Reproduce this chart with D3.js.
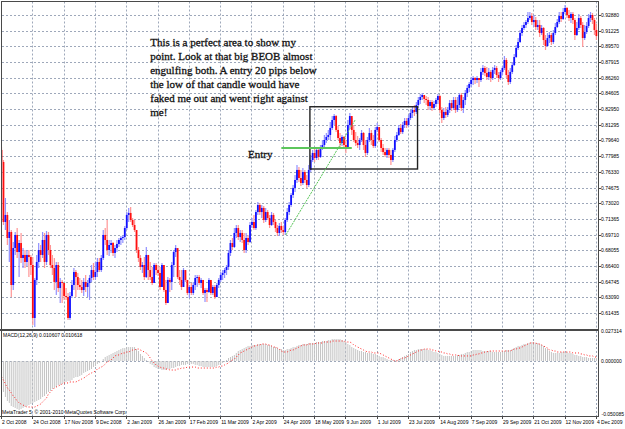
<!DOCTYPE html>
<html>
<head>
<meta charset="utf-8">
<title>Daily chart with MACD</title>
<script src="https://d3js.org/d3.v7.min.js"></script>
<style>
    html, body { margin: 0; padding: 0; background: #fff; overflow: hidden; }
    svg { display: block; }
    .tick-label { font-family: "Liberation Sans", Arial, sans-serif; font-size: 5px; fill: #000; }
    .note { font-family: "Liberation Serif", "Times New Roman", serif; font-size: 11px; fill: #111; stroke: #111; stroke-width: 0.3px; }
</style>
</head>
<body>
<svg id="chart" width="625" height="429"></svg>
<script>
// ---- datos (diario, 2 Oct 2008 - 4 Dec 2009) ----
const firstOpen = 0.7864;

const closes = [
    0.7737,0.7104,0.7178,0.6935,0.6998,0.6439,0.6829,0.6967,0.6787,0.6882,
    0.6724,0.6756,0.6682,0.6756,0.6734,0.6650,0.6091,0.6492,0.6682,0.6808,
    0.6756,0.6914,0.6682,0.6967,0.6808,0.6650,0.6618,0.6471,0.6650,0.6407,
    0.6471,0.6460,0.6323,0.6312,0.6091,0.6323,0.6439,0.6576,0.6523,0.6439,
    0.6418,0.6386,0.6471,0.6418,0.6460,0.6513,0.6597,0.6523,0.6576,0.6682,
    0.6597,0.6724,0.6967,0.6914,0.6808,0.6861,0.6882,0.6777,0.6829,0.6872,
    0.6914,0.6935,0.6945,0.7040,0.7178,0.7199,0.7125,0.7072,0.7019,0.6808,
    0.6724,0.6629,0.6650,0.6523,0.6756,0.6597,0.6523,0.6460,0.6650,0.6597,
    0.6566,0.6418,0.6650,0.6386,0.6249,0.6492,0.6471,0.6650,0.6787,0.6829,
    0.6523,0.6492,0.6418,0.6597,0.6492,0.6355,0.6418,0.6355,0.6439,0.6513,
    0.6523,0.6460,0.6492,0.6355,0.6386,0.6365,0.6492,0.6355,0.6418,0.6312,
    0.6439,0.6492,0.6545,0.6566,0.6597,0.6629,0.6777,0.6882,0.6840,0.6988,
    0.7040,0.6945,0.6988,0.6914,0.6808,0.6935,0.6893,0.7072,0.7104,0.7040,
    0.7209,0.7283,0.7209,0.7252,0.7125,0.7209,0.7146,0.7072,0.7178,0.7104,
    0.7040,0.6988,0.7062,0.7019,0.6998,0.7125,0.7209,0.7283,0.7389,0.7463,
    0.7547,0.7653,0.7568,0.7515,0.7631,0.7547,0.7494,0.7653,0.7758,0.7832,
    0.7779,0.7864,0.7790,0.7885,0.7916,0.7969,0.8001,0.8022,0.8096,0.8180,
    0.8222,0.8075,0.7990,0.7937,0.8001,0.7916,0.7895,0.8127,0.8222,0.8075,
    0.7969,0.7937,0.7916,0.7969,0.8043,0.7916,0.7832,0.7969,0.8043,0.7969,
    0.7906,0.8075,0.8106,0.7969,0.7885,0.7842,0.7811,0.7864,0.7811,0.7758,
    0.7864,0.7969,0.8022,0.8096,0.8053,0.8127,0.8170,0.8127,0.8201,0.8254,
    0.8286,0.8265,0.8338,0.8391,0.8423,0.8444,0.8402,0.8391,0.8328,0.8370,
    0.8307,0.8349,0.8391,0.8433,0.8286,0.8201,0.8265,0.8233,0.8286,0.8359,
    0.8307,0.8391,0.8286,0.8338,0.8444,0.8307,0.8391,0.8465,0.8518,0.8560,
    0.8602,0.8623,0.8602,0.8623,0.8602,0.8687,0.8729,0.8676,0.8634,0.8687,
    0.8623,0.8708,0.8729,0.8655,0.8623,0.8687,0.8729,0.8813,0.8655,0.8581,
    0.8687,0.8760,0.8845,0.8940,0.9003,0.9098,0.9151,0.9183,0.9214,0.9256,
    0.9278,0.9214,0.9235,0.9161,0.9183,0.9098,0.9151,0.9024,0.8961,0.9045,
    0.9077,0.9003,0.9098,0.9161,0.9214,0.9278,0.9246,0.9320,0.9362,0.9288,
    0.9256,0.9299,0.9235,0.9077,0.9151,0.9256,0.9183,0.9045,0.9109,0.9172,
    0.9256,0.9288,0.9235,0.9130,0.9066
];

const highs = [
    0.7895,0.7758,0.7357,0.7209,0.7125,0.7019,0.6893,0.6998,0.7040,0.6914,
    0.6988,0.6829,0.6808,0.6808,0.6808,0.6756,0.6734,0.6513,0.6756,0.6882,
    0.6861,0.6998,0.6988,0.7009,0.6998,0.6861,0.6756,0.6724,0.6682,0.6682,
    0.6513,0.6492,0.6460,0.6407,0.6355,0.6365,0.6492,0.6618,0.6597,0.6566,
    0.6513,0.6492,0.6513,0.6545,0.6492,0.6545,0.6650,0.6671,0.6682,0.6724,
    0.6724,0.6756,0.7019,0.7040,0.7125,0.6914,0.6914,0.6893,0.6861,0.6914,
    0.6935,0.6956,0.6967,0.7062,0.7209,0.7252,0.7262,0.7146,0.7125,0.7019,
    0.6840,0.6756,0.6682,0.6734,0.6840,0.6682,0.6682,0.6629,0.6671,0.6671,
    0.6650,0.6629,0.6671,0.6640,0.6492,0.6523,0.6513,0.6682,0.6808,0.6861,
    0.6808,0.6597,0.6597,0.6618,0.6534,0.6492,0.6439,0.6460,0.6471,0.6545,
    0.6545,0.6545,0.6513,0.6471,0.6407,0.6407,0.6513,0.6471,0.6439,0.6439,
    0.6460,0.6513,0.6576,0.6597,0.6618,0.6650,0.6808,0.6914,0.6935,0.7040,
    0.7072,0.7072,0.7019,0.7019,0.6988,0.6988,0.6967,0.7104,0.7146,0.7178,
    0.7230,0.7315,0.7304,0.7283,0.7273,0.7252,0.7230,0.7178,0.7209,0.7199,
    0.7125,0.7072,0.7093,0.7104,0.7062,0.7146,0.7252,0.7315,0.7410,0.7494,
    0.7600,0.7705,0.7684,0.7653,0.7674,0.7653,0.7600,0.7705,0.7811,0.7864,
    0.7885,0.7895,0.7885,0.7916,0.7969,0.8022,0.8043,0.8075,0.8159,0.8222,
    0.8243,0.8233,0.8117,0.8043,0.8022,0.8011,0.7969,0.8180,0.8254,0.8201,
    0.8127,0.8053,0.8011,0.7990,0.8075,0.8053,0.7969,0.8001,0.8096,0.8075,
    0.8022,0.8106,0.8148,0.8096,0.7990,0.7927,0.7885,0.7885,0.7885,0.7864,
    0.7885,0.8011,0.8053,0.8127,0.8138,0.8159,0.8201,0.8201,0.8233,0.8286,
    0.8328,0.8338,0.8370,0.8423,0.8454,0.8465,0.8433,0.8433,0.8423,0.8391,
    0.8391,0.8381,0.8412,0.8454,0.8444,0.8317,0.8307,0.8317,0.8317,0.8391,
    0.8391,0.8423,0.8423,0.8423,0.8465,0.8465,0.8423,0.8497,0.8549,0.8581,
    0.8634,0.8644,0.8634,0.8644,0.8623,0.8729,0.8760,0.8750,0.8739,0.8729,
    0.8708,0.8739,0.8760,0.8750,0.8687,0.8708,0.8750,0.8855,0.8834,0.8708,
    0.8729,0.8792,0.8877,0.8971,0.9045,0.9130,0.9183,0.9214,0.9235,0.9320,
    0.9320,0.9309,0.9288,0.9267,0.9235,0.9235,0.9183,0.9161,0.9077,0.9098,
    0.9109,0.9098,0.9130,0.9204,0.9246,0.9320,0.9320,0.9362,0.9394,0.9372,
    0.9341,0.9320,0.9320,0.9256,0.9214,0.9299,0.9278,0.9214,0.9183,0.9214,
    0.9299,0.9320,0.9309,0.9256,0.9193
];

const lows = [
    0.7705,0.7072,0.7019,0.6861,0.6682,0.6312,0.6386,0.6756,0.6724,0.6523,
    0.6671,0.6618,0.6618,0.6640,0.6523,0.6545,0.6017,0.5996,0.6439,0.6618,
    0.6682,0.6724,0.6618,0.6650,0.6756,0.6618,0.6545,0.6386,0.6333,0.6365,
    0.6249,0.6249,0.6281,0.6281,0.6070,0.6070,0.6302,0.6386,0.6312,0.6386,
    0.6386,0.6355,0.6323,0.6365,0.6312,0.6281,0.6471,0.6492,0.6492,0.6523,
    0.6576,0.6576,0.6703,0.6861,0.6756,0.6745,0.6777,0.6745,0.6724,0.6787,
    0.6840,0.6861,0.6882,0.6914,0.7019,0.7104,0.7104,0.7051,0.6998,0.6777,
    0.6682,0.6597,0.6566,0.6492,0.6513,0.6492,0.6492,0.6439,0.6460,0.6545,
    0.6534,0.6386,0.6418,0.6365,0.6228,0.6249,0.6365,0.6386,0.6523,0.6734,
    0.6502,0.6439,0.6386,0.6418,0.6471,0.6333,0.6302,0.6333,0.6333,0.6386,
    0.6418,0.6439,0.6407,0.6333,0.6260,0.6260,0.6355,0.6333,0.6333,0.6291,
    0.6312,0.6407,0.6471,0.6492,0.6513,0.6545,0.6597,0.6745,0.6808,0.6829,
    0.6935,0.6914,0.6893,0.6882,0.6777,0.6777,0.6861,0.6882,0.7040,0.7019,
    0.7019,0.7178,0.7178,0.7146,0.7093,0.7104,0.7125,0.7040,0.7062,0.7072,
    0.6998,0.6956,0.6956,0.6988,0.6967,0.6967,0.7104,0.7178,0.7262,0.7357,
    0.7420,0.7515,0.7526,0.7484,0.7494,0.7515,0.7463,0.7473,0.7631,0.7737,
    0.7737,0.7758,0.7758,0.7779,0.7864,0.7895,0.7937,0.7969,0.7969,0.8075,
    0.8127,0.8053,0.7969,0.7885,0.7906,0.7885,0.7832,0.7885,0.8096,0.8022,
    0.7948,0.7906,0.7885,0.7864,0.7948,0.7864,0.7790,0.7811,0.7948,0.7916,
    0.7885,0.7885,0.8053,0.7948,0.7842,0.7811,0.7790,0.7779,0.7779,0.7705,
    0.7737,0.7842,0.7948,0.8011,0.8032,0.8032,0.8096,0.8096,0.8106,0.8180,
    0.8201,0.8222,0.8243,0.8307,0.8349,0.8391,0.8359,0.8338,0.8286,0.8286,
    0.8275,0.8286,0.8317,0.8349,0.8254,0.8148,0.8180,0.8201,0.8212,0.8254,
    0.8275,0.8286,0.8254,0.8265,0.8307,0.8275,0.8254,0.8338,0.8423,0.8476,
    0.8528,0.8549,0.8560,0.8570,0.8528,0.8581,0.8655,0.8644,0.8602,0.8602,
    0.8581,0.8602,0.8666,0.8623,0.8581,0.8602,0.8655,0.8708,0.8623,0.8549,
    0.8560,0.8666,0.8750,0.8834,0.8919,0.8993,0.9066,0.9130,0.9151,0.9193,
    0.9235,0.9183,0.9161,0.9130,0.9130,0.9056,0.9077,0.8971,0.8919,0.8950,
    0.8993,0.8971,0.8982,0.9077,0.9151,0.9193,0.9214,0.9235,0.9299,0.9256,
    0.9225,0.9204,0.9193,0.9024,0.9066,0.9130,0.9151,0.8950,0.9024,0.9088,
    0.9151,0.9214,0.9193,0.9077,0.9024
];

// MACD(12,26,9): linea principal (histograma) y señal
const macdMain = [
    -0.0191,-0.0282,-0.0328,-0.0364,-0.0382,-0.0410,-0.0419,-0.0428,-0.0437,-0.0446,
    -0.0437,-0.0428,-0.0419,-0.0410,-0.0401,-0.0392,-0.0382,-0.0373,-0.0364,-0.0355,
    -0.0346,-0.0328,-0.0319,-0.0300,-0.0282,-0.0273,-0.0255,-0.0246,-0.0237,-0.0219,
    -0.0219,-0.0209,-0.0200,-0.0191,-0.0182,-0.0182,-0.0173,-0.0155,-0.0146,-0.0146,
    -0.0137,-0.0127,-0.0109,-0.0100,-0.0091,-0.0082,-0.0073,-0.0055,-0.0046,-0.0027,
    -0.0018,0.0000,0.0018,0.0036,0.0046,0.0055,0.0064,0.0073,0.0082,0.0091,
    0.0100,0.0109,0.0118,0.0118,0.0127,0.0127,0.0127,0.0127,0.0127,0.0109,
    0.0091,0.0064,0.0046,0.0027,0.0009,-0.0009,-0.0027,-0.0036,-0.0055,-0.0064,
    -0.0073,-0.0073,-0.0082,-0.0082,-0.0082,-0.0073,-0.0073,-0.0064,-0.0064,-0.0055,
    -0.0046,-0.0046,-0.0036,-0.0036,-0.0036,-0.0027,-0.0027,-0.0027,-0.0027,-0.0036,
    -0.0036,-0.0046,-0.0046,-0.0055,-0.0055,-0.0055,-0.0055,-0.0055,-0.0055,-0.0055,
    -0.0046,-0.0036,-0.0027,-0.0018,-0.0009,0.0009,0.0027,0.0036,0.0046,0.0055,
    0.0073,0.0091,0.0100,0.0109,0.0118,0.0127,0.0137,0.0137,0.0146,0.0146,
    0.0146,0.0155,0.0155,0.0155,0.0155,0.0155,0.0146,0.0146,0.0137,0.0127,
    0.0127,0.0118,0.0109,0.0109,0.0100,0.0100,0.0109,0.0109,0.0118,0.0127,
    0.0127,0.0137,0.0146,0.0146,0.0155,0.0155,0.0155,0.0164,0.0164,0.0164,
    0.0164,0.0173,0.0173,0.0173,0.0182,0.0182,0.0182,0.0191,0.0191,0.0200,
    0.0200,0.0200,0.0200,0.0200,0.0191,0.0182,0.0173,0.0155,0.0146,0.0127,
    0.0118,0.0109,0.0100,0.0091,0.0091,0.0082,0.0082,0.0073,0.0073,0.0073,
    0.0064,0.0064,0.0055,0.0046,0.0036,0.0036,0.0027,0.0018,0.0009,0.0009,
    0.0009,0.0009,0.0009,0.0018,0.0027,0.0036,0.0046,0.0055,0.0064,0.0082,
    0.0091,0.0100,0.0100,0.0109,0.0109,0.0109,0.0109,0.0109,0.0100,0.0100,
    0.0091,0.0082,0.0082,0.0073,0.0064,0.0055,0.0046,0.0046,0.0046,0.0046,
    0.0046,0.0046,0.0046,0.0055,0.0055,0.0064,0.0064,0.0073,0.0082,0.0082,
    0.0091,0.0100,0.0100,0.0100,0.0100,0.0100,0.0091,0.0091,0.0091,0.0091,
    0.0091,0.0082,0.0082,0.0082,0.0082,0.0082,0.0091,0.0091,0.0100,0.0100,
    0.0100,0.0109,0.0118,0.0127,0.0137,0.0137,0.0146,0.0155,0.0155,0.0164,
    0.0164,0.0173,0.0173,0.0164,0.0164,0.0155,0.0146,0.0137,0.0118,0.0109,
    0.0091,0.0082,0.0073,0.0073,0.0073,0.0073,0.0082,0.0082,0.0082,0.0082,
    0.0073,0.0073,0.0064,0.0055,0.0055,0.0046,0.0046,0.0036,0.0036,0.0036,
    0.0027,0.0027,0.0027,0.0027,0.0027
];

const macdSignal = [
    -0.0146,-0.0173,-0.0209,-0.0246,-0.0264,-0.0291,-0.0319,-0.0337,-0.0364,-0.0382,
    -0.0392,-0.0401,-0.0410,-0.0419,-0.0419,-0.0419,-0.0419,-0.0419,-0.0410,-0.0401,
    -0.0392,-0.0373,-0.0355,-0.0337,-0.0300,-0.0282,-0.0264,-0.0246,-0.0237,-0.0228,
    -0.0219,-0.0209,-0.0200,-0.0200,-0.0200,-0.0191,-0.0191,-0.0191,-0.0191,-0.0182,
    -0.0173,-0.0164,-0.0155,-0.0146,-0.0127,-0.0118,-0.0109,-0.0100,-0.0091,-0.0073,
    -0.0064,-0.0055,-0.0046,-0.0027,-0.0009,0.0000,0.0009,0.0027,0.0046,0.0055,
    0.0055,0.0064,0.0073,0.0073,0.0082,0.0082,0.0091,0.0100,0.0100,0.0109,
    0.0109,0.0100,0.0091,0.0082,0.0073,0.0055,0.0027,0.0000,-0.0018,-0.0036,
    -0.0046,-0.0055,-0.0064,-0.0064,-0.0073,-0.0073,-0.0082,-0.0082,-0.0082,-0.0082,
    -0.0073,-0.0073,-0.0064,-0.0064,-0.0064,-0.0055,-0.0055,-0.0055,-0.0055,-0.0055,
    -0.0064,-0.0064,-0.0064,-0.0064,-0.0064,-0.0064,-0.0064,-0.0064,-0.0064,-0.0064,
    -0.0055,-0.0055,-0.0046,-0.0046,-0.0036,-0.0027,-0.0018,0.0000,0.0009,0.0018,
    0.0036,0.0055,0.0073,0.0082,0.0091,0.0100,0.0109,0.0118,0.0127,0.0137,
    0.0137,0.0146,0.0146,0.0155,0.0155,0.0155,0.0146,0.0146,0.0137,0.0127,
    0.0127,0.0118,0.0109,0.0091,0.0082,0.0082,0.0082,0.0091,0.0100,0.0100,
    0.0109,0.0118,0.0127,0.0137,0.0146,0.0146,0.0146,0.0155,0.0155,0.0155,
    0.0155,0.0164,0.0164,0.0164,0.0164,0.0173,0.0173,0.0173,0.0173,0.0182,
    0.0182,0.0182,0.0182,0.0182,0.0182,0.0182,0.0173,0.0173,0.0173,0.0164,
    0.0146,0.0137,0.0127,0.0118,0.0109,0.0100,0.0091,0.0082,0.0082,0.0082,
    0.0073,0.0073,0.0073,0.0073,0.0064,0.0055,0.0046,0.0036,0.0027,0.0018,
    0.0009,0.0000,0.0000,0.0009,0.0018,0.0027,0.0027,0.0036,0.0046,0.0055,
    0.0064,0.0073,0.0082,0.0091,0.0100,0.0100,0.0109,0.0109,0.0109,0.0109,
    0.0100,0.0100,0.0091,0.0091,0.0082,0.0082,0.0073,0.0073,0.0064,0.0064,
    0.0055,0.0055,0.0055,0.0055,0.0046,0.0046,0.0046,0.0046,0.0046,0.0046,
    0.0046,0.0055,0.0055,0.0064,0.0064,0.0073,0.0073,0.0082,0.0082,0.0091,
    0.0091,0.0091,0.0091,0.0091,0.0091,0.0091,0.0091,0.0091,0.0091,0.0091,
    0.0091,0.0100,0.0109,0.0109,0.0118,0.0118,0.0127,0.0137,0.0146,0.0155,
    0.0164,0.0164,0.0164,0.0164,0.0155,0.0155,0.0146,0.0137,0.0127,0.0118,
    0.0100,0.0100,0.0091,0.0091,0.0082,0.0082,0.0082,0.0082,0.0082,0.0082,
    0.0082,0.0082,0.0073,0.0073,0.0073,0.0073,0.0064,0.0064,0.0055,0.0055,
    0.0046,0.0046,0.0046,0.0036,0.0036
];

// ejes
const priceTicks = [
    0.92880, 0.91225, 0.89570, 0.87915, 0.86260, 0.84605, 0.82950, 0.81295, 0.79640, 0.77985,
    0.76330, 0.74675, 0.73020, 0.71365, 0.69710, 0.68055, 0.66400, 0.64745, 0.63090, 0.61435
];
const macdTicks = [0.027314, 0.000000, -0.050085];
const dateTickBars = [0, 16, 32, 48, 64, 80, 96, 112, 128, 144, 160, 176, 192, 208, 224, 240, 256, 272, 288, 304];
const dateLabels = [
    "2 Oct 2008", "24 Oct 2008", "17 Nov 2008", "9 Dec 2008", "2 Jan 2009", "26 Jan 2009",
    "17 Feb 2009", "11 Mar 2009", "2 Apr 2009", "24 Apr 2009", "18 May 2009", "9 Jun 2009",
    "1 Jul 2009", "23 Jul 2009", "14 Aug 2009", "7 Sep 2009", "29 Sep 2009", "21 Oct 2009",
    "12 Nov 2009", "4 Dec 2009"
];

// anotaciones (en barras / precio)
const noteLines = [
    "This is a perfect area to show my",
    "point. Look at that big BEOB almost",
    "engulfing both. A entry 20 pips below",
    "the low of that candle would have",
    "faked me out and went right against",
    "me!"
];
const noteAnchor = { bar: 76, price: 0.8961 };
const entryLabel = { text: "Entry", bar: 126, price: 0.7779 };
const entryLine = { from: 143, to: 179, price: 0.7885 };
const trendLine = { from: 145.3, fromPrice: 0.6967, to: 180.7, toPrice: 0.8180 };
const rangeBox = { from: 157.6, to: 212.6, top: 0.8320, bottom: 0.7663 };

// ---- escalas ----
const svg = d3.select("#chart");
const axisX = 598.5;
const mainTop = 1.5, mainBottom = 329, macdTop = 331, macdBottom = 416;

const x = d3.scaleLinear().domain([0, 304]).range([1.5, 596.4]);
const y = d3.scaleLinear().domain([0.61435, 0.92880]).range([313, 15]);
const ym = d3.scaleLinear().domain([-0.050085, 0.027314]).range([macdBottom, macdTop]);

const gridColor = "#9ea8ba";
const crisp = v => Math.round(v) + 0.5;

// cuadricula
const grid = svg.append("g");
grid.selectAll("line.h")
    .data(priceTicks)
    .enter().append("line")
    .attr("x1", 2).attr("x2", axisX)
    .attr("y1", d => crisp(y(d))).attr("y2", d => crisp(y(d)))
    .attr("stroke", gridColor).attr("stroke-dasharray", "2,2");

[[mainTop, mainBottom], [macdTop, macdBottom]].forEach(([t, b]) => {
    grid.selectAll(null)
        .data(dateTickBars.slice(1))
        .enter().append("line")
        .attr("x1", d => crisp(x(d) - 0.5)).attr("x2", d => crisp(x(d) - 0.5))
        .attr("y1", t).attr("y2", b)
        .attr("stroke", gridColor).attr("stroke-dasharray", "2,2");
});

// ---- velas ----
const bars = closes.map((c, i) => ({
    i,
    open: i === 0 ? firstOpen : closes[i - 1],
    close: c,
    high: highs[i],
    low: lows[i]
}));

svg.append("clipPath").attr("id", "main-clip")
    .append("rect").attr("x", 2).attr("y", 2).attr("width", axisX - 2).attr("height", mainBottom - 2);

const candles = svg.append("g").attr("clip-path", "url(#main-clip)")
    .selectAll("g")
    .data(bars)
    .enter().append("g");

candles.append("line")
    .attr("x1", d => x(d.i)).attr("x2", d => x(d.i))
    .attr("y1", d => y(d.high)).attr("y2", d => y(d.low))
    .attr("stroke", d => d.close >= d.open ? "#9090ff" : "#ff9494")
    .attr("stroke-width", 1.2);

candles.append("rect")
    .attr("x", d => x(d.i) - 0.9)
    .attr("width", 1.8)
    .attr("y", d => y(Math.max(d.open, d.close)))
    .attr("height", d => Math.max(1, Math.abs(y(d.open) - y(d.close))))
    .attr("fill", d => d.close >= d.open ? "#1010ff" : "#ff1010");

// ---- anotaciones ----
svg.append("rect")
    .attr("x", x(rangeBox.from)).attr("y", y(rangeBox.top))
    .attr("width", x(rangeBox.to) - x(rangeBox.from))
    .attr("height", y(rangeBox.bottom) - y(rangeBox.top))
    .attr("fill", "none").attr("stroke", "#222").attr("stroke-width", 1.4);

svg.append("line")
    .attr("x1", x(trendLine.from)).attr("y1", y(trendLine.fromPrice))
    .attr("x2", x(trendLine.to)).attr("y2", y(trendLine.toPrice))
    .attr("stroke", "#55c455").attr("stroke-width", 1).attr("stroke-dasharray", "2,1");

svg.append("line")
    .attr("x1", x(entryLine.from)).attr("x2", x(entryLine.to))
    .attr("y1", y(entryLine.price)).attr("y2", y(entryLine.price))
    .attr("stroke", "#5cc65c").attr("stroke-width", 2);

svg.append("text").attr("class", "note")
    .attr("x", x(entryLabel.bar)).attr("y", y(entryLabel.price))
    .text(entryLabel.text);

const note = svg.append("text").attr("class", "note")
    .attr("x", x(noteAnchor.bar)).attr("y", y(noteAnchor.price));
note.selectAll("tspan")
    .data(noteLines)
    .enter().append("tspan")
    .attr("x", x(noteAnchor.bar))
    .attr("dy", (d, i) => i === 0 ? 0 : 14)
    .text(d => d);

// ---- MACD ----
const macdG = svg.append("g");
macdG.append("line")
    .attr("x1", 2).attr("x2", axisX)
    .attr("y1", crisp(ym(0))).attr("y2", crisp(ym(0)))
    .attr("stroke", gridColor).attr("stroke-dasharray", "2,2");

macdG.selectAll("line.hist")
    .data(macdMain)
    .enter().append("line")
    .attr("class", "hist")
    .attr("x1", (d, i) => x(i)).attr("x2", (d, i) => x(i))
    .attr("y1", ym(0)).attr("y2", d => ym(d))
    .attr("stroke", "#c4c4c4").attr("stroke-width", 1);

macdG.append("path")
    .datum(macdSignal)
    .attr("d", d3.line().x((d, i) => x(i)).y(d => ym(d)))
    .attr("fill", "none").attr("stroke", "#ff2020")
    .attr("stroke-width", 1).attr("stroke-dasharray", "1,2");

svg.append("text").attr("class", "tick-label")
    .attr("x", 3).attr("y", 337)
    .text("MACD(12,26,9) 0.010607 0.010618");

svg.append("text").attr("class", "tick-label")
    .attr("x", 2).attr("y", 414)
    .text("MetaTrader 5, © 2001-2010 MetaQuotes Software Corp.");

// ---- marcos y ejes ----
const frame = svg.append("g").attr("stroke", "#4a4a4a").attr("fill", "none");
frame.append("line").attr("x1", 1.5).attr("x2", 1.5).attr("y1", 1).attr("y2", macdBottom);
frame.append("line").attr("x1", 1).attr("x2", axisX).attr("y1", 1.5).attr("y2", 1.5);
frame.append("line").attr("x1", axisX).attr("x2", axisX).attr("y1", 1).attr("y2", macdBottom + 1);
frame.append("line").attr("x1", 0).attr("x2", axisX).attr("y1", 330).attr("y2", 330).attr("stroke-width", 2);
frame.append("line").attr("x1", 0).attr("x2", axisX).attr("y1", macdBottom + 0.5).attr("y2", macdBottom + 0.5);

// etiquetas de precio
svg.selectAll("text.price")
    .data(priceTicks)
    .enter().append("text")
    .attr("class", "tick-label price")
    .attr("x", 601).attr("y", d => y(d) + 2)
    .text(d => d.toFixed(5));
svg.selectAll("line.price-tick")
    .data(priceTicks)
    .enter().append("line")
    .attr("x1", axisX).attr("x2", axisX + 2.5)
    .attr("y1", d => crisp(y(d))).attr("y2", d => crisp(y(d)))
    .attr("stroke", "#4a4a4a");

// etiquetas MACD
svg.selectAll("text.macd")
    .data(macdTicks)
    .enter().append("text")
    .attr("class", "tick-label macd")
    .attr("x", d => d < 0 ? 624 : 601)
    .attr("text-anchor", d => d < 0 ? "end" : "start")
    .attr("y", d => Math.min(ym(d) + 2, macdBottom))
    .text(d => d.toFixed(6));

// fechas
svg.selectAll("line.date-tick")
    .data(dateTickBars)
    .enter().append("line")
    .attr("x1", d => crisp(x(d) - 0.5)).attr("x2", d => crisp(x(d) - 0.5))
    .attr("y1", macdBottom).attr("y2", macdBottom + 3)
    .attr("stroke", "#4a4a4a");
svg.selectAll("text.date")
    .data(dateTickBars)
    .enter().append("text")
    .attr("class", "tick-label date")
    .attr("x", d => x(d) + 0.5).attr("y", 424)
    .text((d, i) => dateLabels[i]);
</script>
</body>
</html>
